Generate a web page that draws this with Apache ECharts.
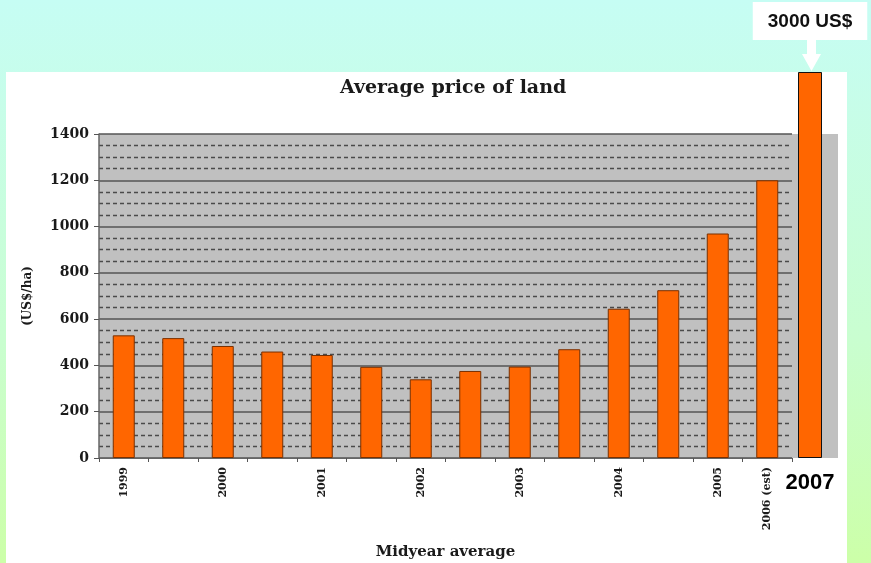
<!DOCTYPE html>
<html>
<head>
<meta charset="utf-8">
<style>
  html, body { margin: 0; padding: 0; }
  body { background: linear-gradient(to bottom, #c6fdf4 0%, #c9fed0 60%, #ccffa8 100%); }
  #chart { width: 871px; height: 563px; }
</style>
<script src="https://cdn.jsdelivr.net/npm/echarts@6/dist/echarts.min.js"></script>
</head>
<body>
<div id="chart"></div>
<script>
// Average price of land, US$ per hectare, by half-year
const categories = ['1999', '1999-2000', '2000', '2000-2001', '2001', '2001-2002', '2002',
                    '2002-2003', '2003', '2003-2004', '2004', '2004-2005', '2005', '2006 (est)'];
const tickLabels = ['1999', '', '2000', '', '2001', '', '2002', '', '2003', '', '2004', '', '2005', '2006 (est)'];
const prices = [530, 518, 484, 460, 445, 394, 340, 376, 395, 470, 645, 725, 970, 1200];

// The 2007 figure, drawn on its own scale
const extraCategory = ['2007'];
const extraPrice = [3000];

const yMax = 1400;
const yStep = 200;

const serif = '"DejaVu Serif", "Liberation Serif", serif';
const sans = '"Liberation Sans", Arial, sans-serif';

const chart = echarts.init(document.getElementById('chart'), null, { renderer: 'canvas' });

chart.setOption({
  backgroundColor: 'transparent',
  animation: false,
  title: {
    text: 'Average price of land',
    left: 335,
    top: 74,
    textStyle: { fontFamily: serif, fontWeight: 'bold', fontSize: 19, color: '#1a1a1a' }
  },
  graphic: [
    // white panel behind the chart
    { type: 'rect', z: -10, shape: { x: 6, y: 72, width: 841, height: 491 }, style: { fill: '#ffffff' } },
    // grey strip holding the 2007 bar
    { type: 'rect', z: -5, shape: { x: 792, y: 134, width: 46, height: 324 }, style: { fill: '#c0c0c0' } },
    // arrow from the callout down to the bar
    { type: 'polygon', z: 10,
      shape: { points: [[807, 39], [816, 39], [816, 54], [821, 54], [811.5, 71], [802, 54], [807, 54]] },
      style: { fill: '#ffffff' } }
  ],
  grid: [
    { left: 99, top: 134, width: 693, height: 324, show: true, backgroundColor: '#c0c0c0', borderWidth: 0,
      outerBoundsMode: 'none', containLabel: false },
    { left: 786, top: 72, width: 48, height: 386, show: false, outerBoundsMode: 'none', containLabel: false }
  ],
  xAxis: [
    {
      type: 'category', gridIndex: 0, data: categories, boundaryGap: true,
      axisLine: { show: true, lineStyle: { color: '#666', width: 1 } },
      axisTick: { show: true, interval: 0, length: 4, lineStyle: { color: '#555' } },
      axisLabel: {
        interval: 0, rotate: 90, margin: 9,
        formatter: (v, i) => tickLabels[i],
        fontFamily: serif, fontWeight: 'bold', fontSize: 11, color: '#1a1a1a'
      },
      name: 'Midyear average', nameLocation: 'middle', nameGap: 87,
      nameTextStyle: { fontFamily: serif, fontWeight: 'bold', fontSize: 15, color: '#1a1a1a' }
    },
    {
      type: 'category', gridIndex: 1, data: extraCategory,
      axisLine: { show: false }, axisTick: { show: false },
      axisLabel: { margin: 14, fontFamily: sans, fontWeight: 'bold', fontSize: 22, color: '#000' }
    }
  ],
  yAxis: [
    {
      type: 'value', gridIndex: 0, min: 0, max: yMax, interval: yStep,
      axisLine: { show: true, lineStyle: { color: '#666', width: 1.5 } },
      axisTick: { show: true, length: 5, lineStyle: { color: '#555' } },
      axisLabel: { margin: 10, formatter: v => String(v),
        fontFamily: serif, fontWeight: 'bold', fontSize: 14, color: '#1a1a1a' },
      splitLine: { show: true, lineStyle: { color: '#555', width: 1.5 } },
      minorTick: { show: false, splitNumber: 4 },
      minorSplitLine: { show: true, lineStyle: { color: '#4a4a4a', type: [4, 3], width: 1.4 } },
      name: '(US$/ha)', nameLocation: 'middle', nameGap: 65, nameRotate: 90,
      nameTextStyle: { fontFamily: serif, fontWeight: 'bold', fontSize: 12, color: '#1a1a1a' }
    },
    {
      type: 'value', gridIndex: 1, min: 0, max: 3000, show: false
    }
  ],
  series: [
    {
      type: 'bar', xAxisIndex: 0, yAxisIndex: 0, data: prices, barWidth: 22,
      itemStyle: { color: '#ff6600', borderColor: '#7a3000', borderWidth: 1 }
    },
    {
      type: 'bar', xAxisIndex: 1, yAxisIndex: 1, data: extraPrice, barWidth: 24,
      itemStyle: { color: '#ff6600', borderColor: '#111', borderWidth: 1 },
      label: {
        show: true, position: 'top', distance: 32,
        formatter: '{c} US$',
        fontFamily: sans, fontWeight: 'bold', fontSize: 19, color: '#111',
        backgroundColor: '#ffffff', padding: [10, 15, 9, 15]
      }
    }
  ]
});
</script>
</body>
</html>
